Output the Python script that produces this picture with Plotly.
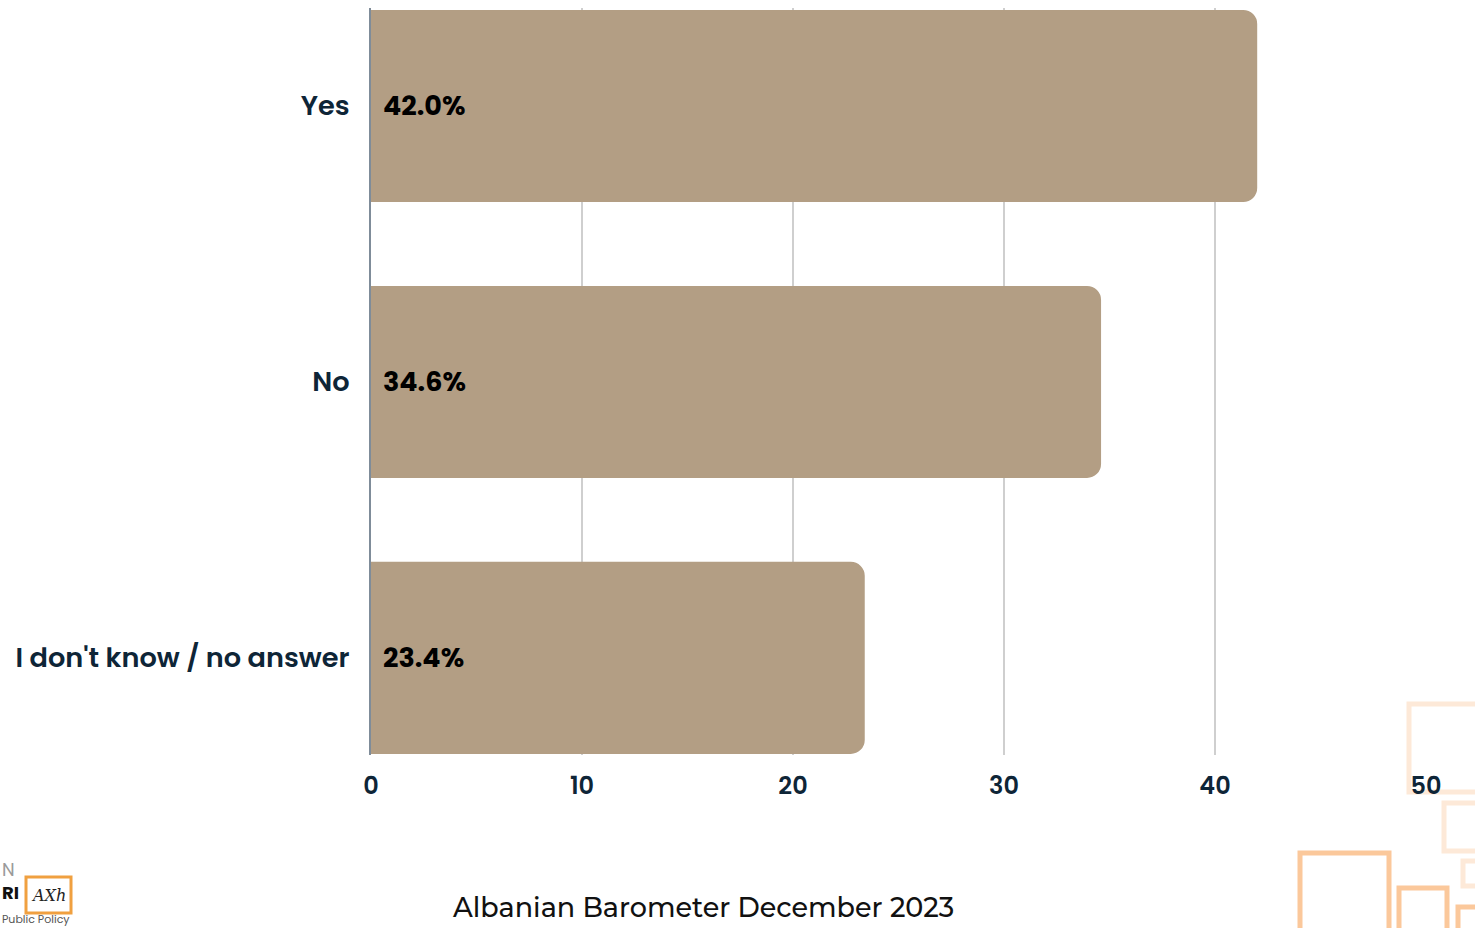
import plotly.graph_objects as go

# Survey responses
categories = ["Yes", "No", "I don't know / no answer"]
shares = [42.0, 34.6, 23.4]
x_ticks = [0, 10, 20, 30, 40, 50]

BAR = "#B39E84"
NAVY = "#0E2537"
FONT = "Poppins, Inter, Lato, sans-serif"

W, H = 1475, 928
L, R, T, B = 371, 49, 8, 173
pw, ph = W - L - R, H - T - B

fig = go.Figure()
fig.add_trace(go.Bar(
    x=shares,
    y=categories,
    orientation="h",
    marker=dict(color=BAR, line=dict(width=0), cornerradius=14),
    width=0.696,
    hoverinfo="skip",
))

# Value labels at the base of each bar
for cat, v in zip(categories, shares):
    fig.add_annotation(
        x=0, y=cat, xref="x", yref="y",
        text=f"{v:.1f}%", showarrow=False,
        xanchor="left", xshift=10,
        font=dict(family=FONT, size=27, color="#000000", weight="bold"),
    )


def px_text(x, y, text, size, color, anchor="left", weight="normal",
            family=FONT, yanchor="middle"):
    fig.add_annotation(
        x=(x - L) / pw, y=(H - B - y) / ph, xref="paper", yref="paper",
        text=text, showarrow=False, xanchor=anchor, yanchor=yanchor,
        align="left", borderpad=0,
        font=dict(family=family, size=size, color=color, weight=weight),
    )


def px_rect(x0, y0, x1, y1, color, width=5):
    return dict(
        type="rect", xref="paper", yref="paper",
        x0=(x0 - L) / pw, x1=(x1 - L) / pw,
        y0=(H - B - y1) / ph, y1=(H - B - y0) / ph,
        line=dict(color=color, width=width), fillcolor="rgba(0,0,0,0)",
        layer="below",
    )


# Source caption
px_text(703, 908, "Albanian Barometer December 2023", 27, "#111111",
        anchor="center", weight=500, family="Montserrat, Poppins, sans-serif")

# Decorative outlined squares, bottom-right corner
faint = "#FDE9D8"
strong = "#FBC89B"
shapes = [
    px_rect(1409, 704, 1500, 792, faint),
    px_rect(1444, 803, 1500, 851, faint),
    px_rect(1463, 861, 1500, 886, faint),
    px_rect(1300, 853, 1389, 960, strong),
    px_rect(1399, 888, 1447, 960, strong),
    px_rect(1458, 907, 1500, 960, strong),
    # logo frame
    px_rect(26, 877, 71, 913, "#F0A040", 3),
]
fig.update_layout(shapes=shapes)

# Logo, bottom-left: a single stacked text block plus the framed signature
px_text(
    1, 928,
    "<span style='color:#9A9A9A'>N</span><br>"
    "<b>RI</b><br>"
    "<span style='font-size:11px;color:#555555'>Public Policy</span>",
    18, "#111111", yanchor="bottom",
)
px_text(48, 895, "<i>AXh</i>", 16, "#222222", anchor="center", family="DejaVu Serif")

fig.update_xaxes(
    range=[0, 50],
    tickvals=x_ticks,
    showgrid=True, gridcolor="#CFCFCF", gridwidth=2,
    zeroline=False, showline=False,
    ticks="", ticklabelstandoff=14,
    tickfont=dict(family=FONT, size=24, color=NAVY, weight=600),
)
fig.update_yaxes(
    range=[2.352, -0.355],
    showgrid=False, zeroline=False,
    showline=True, linecolor="#7F8C99", linewidth=2,
    ticks="", ticklabelstandoff=14,
    tickfont=dict(family=FONT, size=27.2, color=NAVY, weight=600),
)
fig.update_layout(
    width=W, height=H,
    margin=dict(l=L, r=R, t=T, b=B),
    plot_bgcolor="white", paper_bgcolor="white",
    showlegend=False,
)

fig.write_html("out.html")
